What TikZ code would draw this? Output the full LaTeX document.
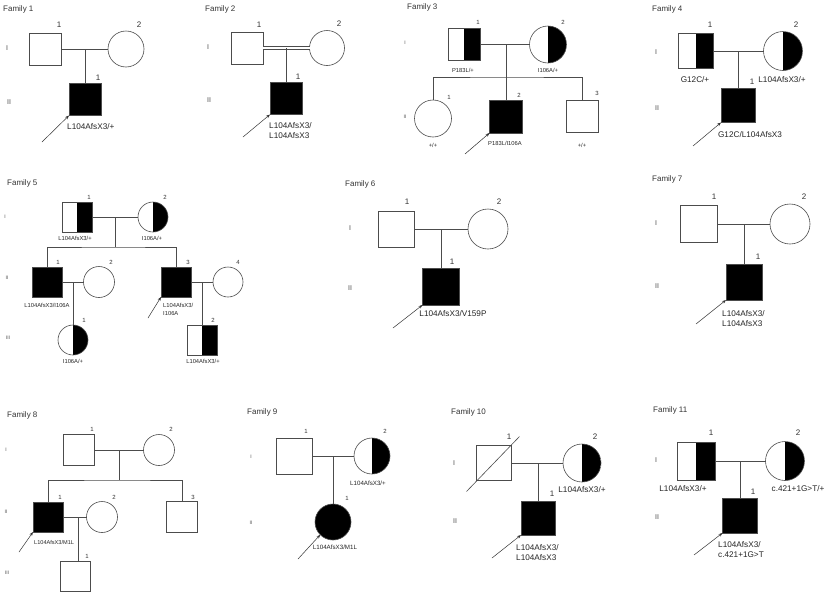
\documentclass[tikz,border=0pt]{standalone}
\usepackage{fontspec}
\setmainfont{Liberation Sans}
\usetikzlibrary{arrows.meta,calc}

\tikzset{
  ind/.style={draw=black!70, line width=0.6pt, inner sep=0pt, outer sep=0pt},
  male/.style={ind, rectangle, minimum size=#1},
  female/.style={ind, circle, minimum size=#1},
  aff/.style={fill=black},
  het/.style={path picture={\fill[black] (path picture bounding box.north) rectangle (path picture bounding box.south east);}},
  link/.style={draw=black!70, line width=0.6pt},
  proband/.style={draw=black!80, line width=0.5pt, -{Stealth[length=4pt,width=3pt]}},
  fam/.style={font=\fontsize{8}{9}\selectfont, text=black!80, inner sep=0pt, anchor=base west, yshift=-2.9pt},
  num/.style={font=\fontsize{8}{9}\selectfont, text=black!80, inner sep=0pt, anchor=base, yshift=-2.9pt},
  numsm/.style={font=\fontsize{6}{7}\selectfont, text=black!80, inner sep=0pt, anchor=base, yshift=-2.2pt},
  gen/.style={font=\fontsize{7}{8}\selectfont, text=black!70, inner sep=0pt, anchor=base, yshift=-2.5pt},
  gensm/.style={font=\fontsize{5}{6}\selectfont, text=black!70, inner sep=0pt, anchor=base, yshift=-1.8pt},
  gt/.style={font=\fontsize{8.2}{10.5}\selectfont, text=black!85, inner sep=0pt, anchor=base, yshift=-2.9pt, align=left},
  gtsm/.style={font=\fontsize{5.8}{8}\selectfont, text=black!85, inner sep=0pt, anchor=base, yshift=-2.1pt, align=left},
}

\begin{document}
\begin{tikzpicture}[x=1pt, y=-1pt]
  \path[fill=white] (0,0) rectangle (825,592);
  \useasboundingbox (0,0) rectangle (825,592);

  % Family 1
  \node[fam] (t1) at (3,9) {Family 1};
  \node[male=32pt] (f1a) at (45,49) {};
  \node[female=36pt] (f1b) at (126,49) {};
  \node[male=32pt, aff] (f1c) at (85,99.5) {};
  \draw[link] (f1a) -- (f1b);
  \draw[link] (f1c.north) -- (f1c.north |- f1a);
  \node[num] (f1n1) at (59,25) {1};
  \node[num] (f1n2) at (139,25) {2};
  \node[num] (f1n3) at (98,78) {1};
  \node[gen] (f1g1) at (7,48) {I};
  \node[gen] (f1g2) at (9,102) {II};
  \node[gt, anchor=base west] (f1l3) at (67,127) {L104AfsX3/+};
  \coordinate (f1p) at (42,142);
  \draw[proband] (f1p) -- (f1c.south west);

  % Family 2
  \node[fam] (t2) at (205,9) {Family 2};
  \node[male=32pt] (f2a) at (247,48) {};
  \node[female=35pt] (f2b) at (327,48) {};
  \node[male=32pt, aff] (f2c) at (286,98.5) {};
  \draw[link, double, double distance=2pt] (f2a) -- (f2b);
  \draw[link] (f2c.north) -- (f2c.north |- f2a);
  \node[num] (f2n1) at (259,25) {1};
  \node[num] (f2n2) at (339,24) {2};
  \node[num] (f2n3) at (298,77) {1};
  \node[gen] (f2g1) at (208,47) {I};
  \node[gen] (f2g2) at (209,100) {II};
  % base of a two-line node sits on its last line
  \node[gt, anchor=base west] (f2l3) at (269,136) {L104AfsX3/\\L104AfsX3};
  \coordinate (f2p) at (243,137);
  \draw[proband] (f2p) -- (f2c.south west);

  % Family 3
  \node[fam] (t3) at (407,7) {Family 3};
  \node[male=32pt, het] (f3a) at (464,44.5) {};
  \node[female=37pt, het] (f3b) at (548,44.5) {};
  \coordinate (f3m) at ($(f3a)!0.5!(f3b)$);
  \coordinate (f3s) at (506,77);
  \node[female=37pt] (f3c1) at (433,118.5) {};
  \node[male=33pt, aff] (f3c2) at (506,116.5) {};
  \node[male=32pt] (f3c3) at (582,116) {};
  \draw[link] (f3a) -- (f3b);
  \draw[link] (f3m) -- (f3s);
  \draw[link] (f3c1.north) |- (f3s) -| (f3c3.north);
  \draw[link] (f3s) -- (f3c2.north);
  \node[numsm] (f3n1) at (478,22) {1};
  \node[numsm] (f3n2) at (563,22) {2};
  \node[numsm] (f3n3) at (449,97) {1};
  \node[numsm] (f3n4) at (519,95) {2};
  \node[numsm] (f3n5) at (597,93) {3};
  \node[gensm] (f3g1) at (405,43) {I};
  \node[gensm] (f3g2) at (405,117) {II};
  \node[gtsm] (f3l1) at (463,70) {P183L/+};
  \node[gtsm] (f3l2) at (548,70) {I106A/+};
  \node[gtsm] (f3l3) at (433,145) {+/+};
  \node[gtsm] (f3l4) at (505,143) {P183L/I106A};
  \node[gtsm] (f3l5) at (582,145) {+/+};
  \coordinate (f3p) at (465,154);
  \draw[proband] (f3p) -- (f3c2.south west);

  % Family 4
  \node[fam] (t4) at (652,9) {Family 4};
  \node[male=35pt, het] (f4a) at (696,51) {};
  \node[female=39pt, het] (f4b) at (783,51) {};
  \node[male=34pt, aff] (f4c) at (738,105.5) {};
  \draw[link] (f4a) -- (f4b);
  \draw[link] (f4c.north) -- (f4c.north |- f4a);
  \node[num] (f4n1) at (710,25) {1};
  \node[num] (f4n2) at (796,25) {2};
  \node[num] (f4n3) at (752,82) {1};
  \node[gen] (f4g1) at (656,52) {I};
  \node[gen] (f4g2) at (657,108) {II};
  \node[gt] (f4l1) at (695,80) {G12C/+};
  \node[gt] (f4l2) at (782,80) {L104AfsX3/+};
  \node[gt] (f4l3) at (750,135) {G12C/L104AfsX3};
  \coordinate (f4p) at (693,146);
  \draw[proband] (f4p) -- (f4c.south west);

  % Family 5
  \node[fam] (t5) at (7,183) {Family 5};
  \node[male=30pt, het] (f5a) at (77,217) {};
  \node[female=30pt, het] (f5b) at (153,217) {};
  \coordinate (f5m) at ($(f5a)!0.5!(f5b)$);
  \coordinate (f5s) at (115,247);
  \node[male=30pt, aff] (f5c1) at (47,282) {};
  \node[female=31pt] (f5c2) at (99,282) {};
  \node[male=30pt, aff] (f5c3) at (176,282) {};
  \node[female=30pt] (f5c4) at (228,282) {};
  \coordinate (f5m2) at ($(f5c1)!0.5!(f5c2)$);
  \coordinate (f5m3) at ($(f5c3)!0.5!(f5c4)$);
  \node[female=30pt, het] (f5g1) at (73,340) {};
  \node[male=30pt, het] (f5g2) at (202,340) {};
  \draw[link] (f5a) -- (f5b);
  \draw[link] (f5m) -- (f5s);
  \draw[link] (f5c1.north) |- (f5s) -| (f5c3.north);
  \draw[link] (f5c1) -- (f5c2);
  \draw[link] (f5c3) -- (f5c4);
  \draw[link] (f5m2) -- (f5g1);
  \draw[link] (f5m3) -- (f5g2);
  \node[numsm] (f5n1) at (89,197) {1};
  \node[numsm] (f5n2) at (165,197) {2};
  \node[numsm] (f5n3) at (58,262) {1};
  \node[numsm] (f5n4) at (111,262) {2};
  \node[numsm] (f5n5) at (188,262) {3};
  \node[numsm] (f5n6) at (238,262) {4};
  \node[numsm] (f5n7) at (84,320) {1};
  \node[numsm] (f5n8) at (213,320) {2};
  \node[gensm] (f5r1) at (5,217) {I};
  \node[gensm] (f5r2) at (7,278) {II};
  \node[gensm] (f5r3) at (8,338) {III};
  \node[gtsm] (f5l1) at (75,238) {L104AfsX3/+};
  \node[gtsm] (f5l2) at (152,238) {I106A/+};
  \node[gtsm] (f5l3) at (47,305) {L104AfsX3/I106A};
  \node[gtsm, anchor=base west] (f5l4) at (163,313) {L104AfsX3/\\I106A};
  \node[gtsm] (f5l5) at (73,361) {I106A/+};
  \node[gtsm] (f5l6) at (203,361) {L104AfsX3/+};
  \coordinate (f5p) at (148,318);
  \draw[proband] (f5p) -- (f5c3.south west);

  % Family 6
  \node[fam] (t6) at (345,184) {Family 6};
  \node[male=36pt] (f6a) at (396,229) {};
  \node[female=40pt] (f6b) at (488,229) {};
  \node[male=37pt, aff] (f6c) at (441,286.5) {};
  \draw[link] (f6a) -- (f6b);
  \draw[link] (f6c.north) -- (f6c.north |- f6a);
  \node[num] (f6n1) at (407,202) {1};
  \node[num] (f6n2) at (499,202) {2};
  \node[num] (f6n3) at (452,262) {1};
  \node[gen] (f6g1) at (350,228) {I};
  \node[gen] (f6g2) at (350,288) {II};
  \node[gt] (f6l3) at (453,314) {L104AfsX3/V159P};
  \coordinate (f6p) at (393,328);
  \draw[proband] (f6p) -- (f6c.south west);

  % Family 7
  \node[fam] (t7) at (652,179) {Family 7};
  \node[male=37pt] (f7a) at (699,224) {};
  \node[female=40pt] (f7b) at (790,224) {};
  \node[male=36pt, aff] (f7c) at (744,282) {};
  \draw[link] (f7a) -- (f7b);
  \draw[link] (f7c.north) -- (f7c.north |- f7a);
  \node[num] (f7n1) at (714,197) {1};
  \node[num] (f7n2) at (804,197) {2};
  \node[num] (f7n3) at (758,257) {1};
  \node[gen] (f7g1) at (656,223) {I};
  \node[gen] (f7g2) at (657,286) {II};
  \node[gt, anchor=base west] (f7l3) at (722,324) {L104AfsX3/\\L104AfsX3};
  \coordinate (f7p) at (696,324);
  \draw[proband] (f7p) -- (f7c.south west);

  % Family 8
  \node[fam] (t8) at (7,415) {Family 8};
  \node[male=31pt] (f8a) at (79,450) {};
  \node[female=31pt] (f8b) at (159,450) {};
  \coordinate (f8m) at ($(f8a)!0.5!(f8b)$);
  \coordinate (f8s) at (119,480);
  \node[male=30pt, aff] (f8c1) at (48,517) {};
  \node[female=31pt] (f8c2) at (102,517) {};
  \node[male=31pt] (f8c3) at (182,517) {};
  \coordinate (f8m2) at (78,517);
  \node[male=30pt] (f8g1) at (75,576.5) {};
  \draw[link] (f8a) -- (f8b);
  \draw[link] (f8m) -- (f8s);
  \draw[link] (f8c1.north) |- (f8s) -| (f8c3.north);
  \draw[link] (f8c1) -- (f8c2);
  \draw[link] (f8m2) -- (f8m2 |- f8g1.north);
  \node[numsm] (f8n1) at (92,429) {1};
  \node[numsm] (f8n2) at (171,429) {2};
  \node[numsm] (f8n3) at (60,497) {1};
  \node[numsm] (f8n4) at (114,497) {2};
  \node[numsm] (f8n5) at (193,497) {3};
  \node[numsm] (f8n6) at (87,556) {1};
  \node[gensm] (f8r1) at (6,450) {I};
  \node[gensm] (f8r2) at (6,512) {II};
  \node[gensm] (f8r3) at (7,573) {III};
  \node[gtsm, anchor=base west, font=\fontsize{5.6}{7}\selectfont] (f8l3) at (34,542) {L104AfsX3/M1L};
  \coordinate (f8p) at (19,552);
  \draw[proband] (f8p) -- (f8c1.south west);

  % Family 9
  \node[fam] (t9) at (247,412) {Family 9};
  \node[male=36pt] (f9a) at (294,456) {};
  \node[female=36pt, het] (f9b) at (372,456) {};
  \node[female=36pt, aff] (f9c) at (333,522) {};
  \draw[link] (f9a) -- (f9b);
  \draw[link] (f9c.north) -- (f9c.north |- f9a);
  \node[numsm] (f9n1) at (306,431) {1};
  \node[numsm] (f9n2) at (385,431) {2};
  \node[numsm] (f9n3) at (347,498) {1};
  \node[gensm] (f9g1) at (251,457) {I};
  \node[gensm] (f9g2) at (251,523) {II};
  \node[gtsm, font=\fontsize{6.2}{7}\selectfont] (f9l2) at (368,483) {L104AfsX3/+};
  \node[gtsm, font=\fontsize{6.2}{7}\selectfont] (f9l3) at (335,547) {L104AfsX3/M1L};
  \coordinate (f9p) at (298,559);
  \draw[proband] (f9p) -- (f9c.south west);

  % Family 10
  \node[fam] (t10) at (451,412) {Family 10};
  \node[male=35pt] (f10a) at (494,463) {};
  \node[female=38pt, het] (f10b) at (582,463) {};
  \node[male=34pt, aff] (f10c) at (538,518) {};
  \draw[link] ($(f10a.south west)+(-10,11)$) -- ($(f10a.north east)+(8,-9)$);
  \draw[link] (f10a) -- (f10b);
  \draw[link] (f10c.north) -- (f10c.north |- f10a);
  \node[num] (f10n1) at (509,437) {1};
  \node[num] (f10n2) at (595,437) {2};
  \node[num] (f10n3) at (552,494) {1};
  \node[gen] (f10g1) at (454,463) {I};
  \node[gen] (f10g2) at (455,521) {II};
  \node[gt] (f10l2) at (582,490) {L104AfsX3/+};
  \node[gt, anchor=base west] (f10l3) at (516,558) {L104AfsX3/\\L104AfsX3};
  \coordinate (f10p) at (492,558);
  \draw[proband] (f10p) -- (f10c.south west);

  % Family 11
  \node[fam] (t11) at (653,410) {Family 11};
  \node[male=38pt, het] (f11a) at (696,461) {};
  \node[female=39pt, het] (f11b) at (785,461) {};
  \node[male=35pt, aff] (f11c) at (740,515.5) {};
  \draw[link] (f11a) -- (f11b);
  \draw[link] (f11c.north) -- (f11c.north |- f11a);
  \node[num] (f11n1) at (711,433) {1};
  \node[num] (f11n2) at (798,433) {2};
  \node[num] (f11n3) at (753,492) {1};
  \node[gen] (f11g1) at (656,460) {I};
  \node[gen] (f11g2) at (657,517) {II};
  \node[gt] (f11l1) at (683,489) {L104AfsX3/+};
  \node[gt] (f11l2) at (798,489) {c.421+1G>T/+};
  \node[gt, anchor=base west] (f11l3) at (718,555) {L104AfsX3/\\c.421+1G>T};
  \coordinate (f11p) at (694,555);
  \draw[proband] (f11p) -- (f11c.south west);
\end{tikzpicture}
\end{document}
